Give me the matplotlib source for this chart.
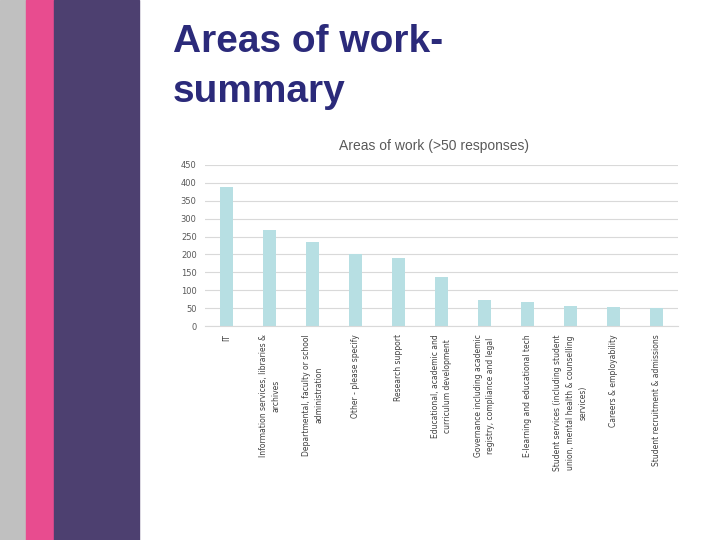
import matplotlib.pyplot as plt
from matplotlib.patches import Rectangle

# data
categories = [
    "IT",
    "Information services, libraries &\narchives",
    "Departmental, faculty or school\nadministration",
    "Other - please specify",
    "Research support",
    "Educational, academic and\ncurriculum development",
    "Governance including academic\nregistry, compliance and legal",
    "E-learning and educational tech",
    "Student services (including student\nunion, mental health & counselling\nservices)",
    "Careers & employability",
    "Student recruitment & admissions",
]
responses = [389, 268, 235, 201, 190, 137, 74, 68, 57, 53, 51]
yticks = [0, 50, 100, 150, 200, 250, 300, 350, 400, 450]

fig = plt.figure(figsize=(7.2, 5.4), dpi=100)

# side stripes of the slide
fig.patches.append(Rectangle((0, 0), 26 / 720, 1, transform=fig.transFigure,
                             color="#c0c0c0", zorder=0))
fig.patches.append(Rectangle((26 / 720, 0), 28 / 720, 1, transform=fig.transFigure,
                             color="#e84c8f", zorder=0))
fig.patches.append(Rectangle((54 / 720, 0), 85 / 720, 1, transform=fig.transFigure,
                             color="#4d4070", zorder=0))

# slide title
fig.text(173 / 720, 1 - 24 / 540, "Areas of work-\nsummary", fontsize=28,
         fontweight="bold", color="#2b2a7a", family="Liberation Sans",
         va="top", ha="left", linespacing=1.5)

ax = fig.add_axes([205 / 720, 1 - 326 / 540, 473 / 720, 161 / 540])
x = range(len(categories))
ax.bar(x, responses, width=0.3, color="#b7dfe3", zorder=2)
ax.set_xlim(-0.5, len(categories) - 0.5)
ax.set_ylim(0, 450)
ax.set_yticks(yticks)
ax.set_yticklabels([str(v) for v in yticks], fontsize=6, color="#595959")
ax.yaxis.grid(True, color="#d9d9d9", linewidth=0.8, zorder=0)
ax.set_xticks(list(x))
ax.set_xticklabels(categories, rotation=90, fontsize=5.5, color="#404040",
                   multialignment="center", linespacing=1.5)
ax.tick_params(length=0, pad=6)
for s in ax.spines.values():
    s.set_visible(False)
ax.spines["bottom"].set_visible(True)
ax.spines["bottom"].set_color("#d9d9d9")

ax.text(0.484, 1.12, "Areas of work (>50 responses)", transform=ax.transAxes,
        fontsize=10, color="#595959", family="Liberation Sans",
        ha="center", va="center")

fig.savefig("out.png", dpi=100)
